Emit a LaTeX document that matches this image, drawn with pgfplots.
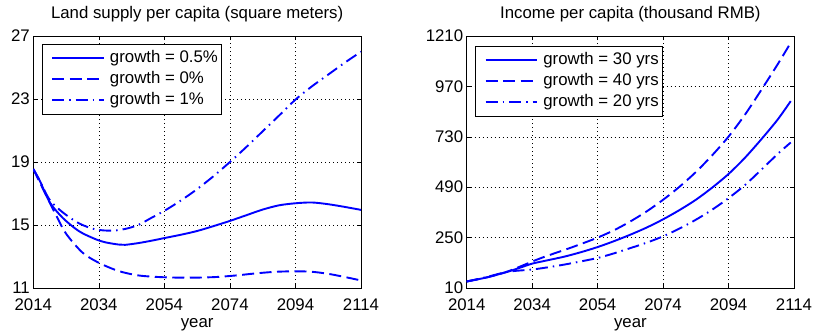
\documentclass[border=0pt]{standalone}
\usepackage{fontspec}
\setmainfont{Liberation Sans}
\usepackage{pgfplots}
\pgfplotsset{compat=1.18}

\newcommand\chartfont{\fontsize{16.8}{20}\selectfont}

\pgfplotsset{
  matlab/.style={
    scale only axis, anchor=south west, width=327.7pt, height=252pt,
    xmin=2014, xmax=2114, xtick={2014,2034,2054,2074,2094,2114},
    tick align=inside, tick pos=both, major tick length=4pt,
    grid=major,
    major grid style={black, line width=0.5pt, dash pattern=on 0.8pt off 3.2pt},
    axis line style={black, line width=0.9pt},
    every tick/.style={black, line width=0.6pt},
    /pgf/number format/assume math mode=true,
    /pgf/number format/1000 sep={},
    tick label style={font=\chartfont},
    xticklabel style={anchor=base, yshift=-22pt},
    title style={font=\chartfont, at={(0.5,1)}, anchor=base, yshift=12pt},
    xlabel style={font=\chartfont, at={(axis description cs:0.5,0)}, anchor=base, yshift=-39.5pt},
    xlabel={year},
    legend cell align=left,
    legend style={at={(0,1)}, anchor=north west, xshift=8.4pt, yshift=-7.5pt,
      draw=black, line width=0.8pt, fill=white, font=\chartfont,
      inner xsep=2.5pt, inner ysep=3.5pt, column sep=3.9pt,
      nodes={inner xsep=1.4pt, inner ysep=2.5pt, text height=12.5pt, text depth=3.5pt}},
    legend image code/.code={\path (0pt,0pt); \draw[##1] (6.6pt,0pt) -- (58.2pt,0pt);},
  },
  sline/.style={blue, line width=1.9pt, smooth},
  dline/.style={blue, line width=1.9pt, smooth, dash pattern=on 12pt off 5.5pt},
  ddline/.style={blue, line width=1.9pt, smooth, dash pattern=on 12pt off 5pt on 1.5pt off 5pt},
}

\begin{document}
\begin{tikzpicture}[font=\chartfont]
\useasboundingbox (0,0) rectangle (814pt,333pt);

% Land supply per capita
\begin{axis}[matlab, at={(33.3pt,45pt)},
  ymin=11, ymax=27, ytick={11,15,19,23,27},
  title={Land supply per capita (square meters)}]
\addplot[sline] coordinates {
  (2014,18.55) (2016,17.8) (2019,16.45) (2023,15.45) (2028,14.6) (2033,14.1)
  (2036,13.9) (2040,13.76) (2042,13.74) (2046,13.85) (2050,14.0) (2054,14.17)
  (2059,14.38) (2064,14.62) (2069,14.93) (2074,15.26) (2079,15.62) (2084,15.98)
  (2089,16.25) (2094,16.38) (2099,16.43) (2104,16.32) (2109,16.15) (2114,15.96)};
\addlegendentry{growth = 0.5\%}
\addplot[dline] coordinates {
  (2014,18.55) (2016,17.7) (2018,16.85) (2021,15.6) (2024,14.45) (2029,13.25)
  (2034,12.6) (2040,12.08) (2046,11.8) (2052,11.7) (2058,11.66) (2064,11.66)
  (2070,11.7) (2076,11.8) (2082,11.93) (2088,12.03) (2094,12.06) (2099,12.03)
  (2104,11.9) (2109,11.7) (2114,11.48)};
\addlegendentry{growth = 0\%}
\addplot[ddline] coordinates {
  (2014,18.55) (2016,17.8) (2019,16.6) (2023,15.8) (2028,15.1) (2033,14.72)
  (2038,14.64) (2042,14.75) (2046,15.0) (2050,15.45) (2054,15.9) (2059,16.55)
  (2064,17.28) (2069,18.1) (2074,19.0) (2079,19.95) (2084,20.95) (2089,21.95)
  (2094,22.96) (2099,23.8) (2104,24.55) (2109,25.3) (2114,26.0)};
\addlegendentry{growth = 1\%}
\end{axis}

% Income per capita
\begin{axis}[matlab, at={(466.7pt,45pt)}, width=327.3pt,
  ymin=10, ymax=1210, ytick={10,250,490,730,970,1210},
  legend style={yshift=-2pt},
  title={Income per capita (thousand RMB)}]
\addplot[sline] coordinates {
  (2014,41) (2020,60) (2026,85) (2030,105) (2034,126) (2039,143) (2044,160)
  (2049,181) (2054,205) (2059,233) (2064,264) (2069,298) (2074,337) (2079,381)
  (2084,430) (2089,488) (2094,553) (2099,630) (2104,718) (2109,812) (2113,900)};
\addlegendentry{growth = 30 yrs}
\addplot[dline] coordinates {
  (2014,41) (2020,60) (2026,86) (2030,110) (2034,136) (2038,160) (2044,192)
  (2049,220) (2054,250) (2059,285) (2064,327) (2069,375) (2074,430) (2079,492)
  (2084,562) (2089,642) (2094,731) (2099,835) (2104,953) (2109,1075) (2113,1178)};
\addlegendentry{growth = 40 yrs}
\addplot[ddline] coordinates {
  (2014,41) (2020,62) (2026,86) (2030,93) (2034,98) (2039,109) (2044,122)
  (2049,137) (2054,153) (2059,175) (2064,200) (2069,226) (2074,256) (2079,293)
  (2084,335) (2089,383) (2094,438) (2099,500) (2104,573) (2109,648) (2113,703)};
\addlegendentry{growth = 20 yrs}
\end{axis}
\end{tikzpicture}
\end{document}
